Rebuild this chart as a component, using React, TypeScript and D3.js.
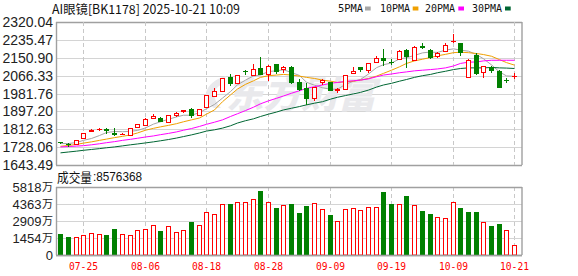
import React from 'react';
import * as d3 from 'd3';

const dates = [
  '07-22','07-23','07-24','07-25','07-28','07-29','07-30','07-31','08-01','08-04',
  '08-05','08-06','08-07','08-08','08-11','08-12','08-13','08-14','08-15','08-18',
  '08-19','08-20','08-21','08-22','08-25','08-26','08-27','08-28','08-29','09-01',
  '09-02','09-03','09-04','09-05','09-08','09-09','09-10','09-11','09-12','09-15',
  '09-16','09-17','09-18','09-19','09-22','09-23','09-24','09-25','09-26','09-29',
  '09-30','10-09','10-10','10-13','10-14','10-15','10-16','10-17','10-20','10-21'
];

const opens = [
  1750,1741,1741,1771,1806,1812,1815,1795,1790,1784,
  1823,1832,1868,1867,1848,1879,1897,1908,1878,1920,
  1970,1994,2059,2030,2086,2067,2102,2072,2120,2097,
  2105,2036,2006,1961,2034,2034,1999,2004,2077,2105,
  2092,2133,2152,2131,2147,2189,2141,2208,2186,2159,
  2183,2229,2219,2061,2163,2084,2105,2089,2046,2064
];
const highs = [
  1753,1746,1762,1797,1814,1818,1817,1820,1795,1820,
  1839,1865,1884,1869,1882,1894,1905,1912,1910,1975,
  2006,2055,2073,2069,2092,2122,2155,2116,2122,2112,
  2110,2050,2030,2014,2050,2036,2010,2069,2106,2107,
  2126,2160,2194,2145,2188,2191,2206,2222,2192,2176,
  2220,2265,2221,2145,2175,2112,2112,2091,2057,2077
];
const lows = [
  1742,1730,1738,1769,1800,1806,1788,1779,1788,1779,
  1821,1826,1866,1845,1843,1870,1890,1868,1876,1918,
  1963,1992,2019,2028,2069,2065,2068,2040,2075,2080,
  2028,1993,1926,1945,2020,1992,1985,2002,2072,2085,
  2077,2128,2111,2115,2145,2103,2139,2194,2147,2150,
  2181,2222,2161,2058,2070,2055,2078,2007,2030,2052
];
const closes = [
  1746,1736,1760,1795,1810,1816,1803,1785,1792,1818,
  1837,1863,1874,1848,1879,1891,1903,1873,1908,1973,
  1994,2053,2026,2067,2084,2096,2070,2114,2083,2109,
  2030,1998,1956,2012,2048,1995,2001,2067,2088,2091,
  2124,2152,2136,2129,2185,2155,2204,2199,2149,2173,
  2210,2232,2172,2142,2072,2110,2088,2009,2044,2066
];

// volume in 万
const volumes = [
  1808,1553,1525,1694,1864,1779,1723,2231,1779,1694,
  2146,2231,2542,2062,2457,1977,2146,2824,2542,3671,
  3474,4405,4349,4518,4575,4829,5450,4518,4010,4236,
  4349,3586,4180,4434,3897,3417,2909,3897,3982,3841,
  4067,4067,5366,4349,4349,5027,4236,3756,3502,3248,
  3135,4518,4010,3671,3671,2824,2485,2655,2146,857.6
];

const ma5 = [
  1745,1745,1750,1760,1769,1783,1797,1802,1801,1803,
  1807,1819,1837,1848,1860,1871,1879,1879,1891,1910,
  1930,1960,1991,2023,2045,2065,2069,2086,2089,2094,
  2081,2067,2035,2021,2009,2002,2002,2025,2040,2048,
  2074,2104,2118,2126,2145,2151,2162,2174,2178,2176,
  2187,2193,2187,2182,2166,2146,2117,2084,2065,2063
];
const ma10 = [
  1732,1736,1741,1747,1753,1760,1766,1773,1779,1786,
  1795,1808,1817,1824,1831,1839,1848,1857,1866,1884,
  1904,1943,1975,2003,2025,2042,2058,2066,2069,2072,
  2069,2064,2058,2053,2045,2040,2034,2037,2040,2045,
  2053,2064,2077,2092,2108,2124,2136,2144,2152,2160,
  2167,2175,2177,2175,2171,2166,2158,2142,2128,2116
];
const ma20 = [
  1729,1731,1733,1735,1739,1744,1749,1754,1760,1765,
  1770,1776,1781,1787,1793,1800,1808,1816,1826,1836,
  1846,1857,1873,1886,1901,1917,1933,1947,1959,1970,
  1983,1995,2006,2014,2022,2030,2034,2039,2042,2045,
  2051,2061,2069,2074,2080,2084,2089,2092,2095,2098,
  2103,2112,2124,2130,2131,2136,2139,2139,2139,2139
];
const ma30 = [
  1701,1705,1709,1713,1717,1721,1725,1729,1734,1739,
  1743,1748,1753,1758,1764,1771,1778,1786,1795,1804,
  1810,1818,1829,1842,1853,1862,1873,1884,1894,1904,
  1912,1920,1928,1936,1943,1955,1964,1972,1980,1987,
  1998,2012,2022,2030,2040,2048,2058,2066,2072,2080,
  2087,2095,2100,2103,2103,2103,2105,2103,2102,2100
];

const priceTicks = ['2320.04','2235.47','2150.90','2066.33','1981.76','1897.20','1812.63','1728.06','1643.49'];
const volTicks = [5818, 4363, 2909, 1454, 0];
const dateTicks = ['07-25','08-06','08-18','08-28','09-09','09-19','10-09','10-21'];
const maNames = ['5PMA','10PMA','20PMA','30PMA'];
const maColors = ['#a6a6a6','#f0a000','#ff00ff','#006633'];
const maSeries = [ma5, ma10, ma20, ma30];
const title = 'AI眼镜[BK1178] 2025-10-21 10:09';
const volTitle = '成交量';
const volLatest = '8576368';
const wanUnit = '万';

const RED = '#ff0000';
const GREEN = '#008000';

export default function App() {
  const W = 578, H = 276;
  const L = 56, R = 522;
  const pTop = 22, pBot = 165, vTop = 187, vBot = 255;

  const x = d3.scaleBand<string>().domain(dates).range([56.5, 518]).padding(0);
  const cx = (d: string) => Math.round((x(d) as number) + x.bandwidth() / 2) + 0.5;
  const pMin = +priceTicks[priceTicks.length - 1];
  const pMax = +priceTicks[0];
  const y = d3.scaleLinear().domain([pMin, pMax]).range([pBot, pTop]);
  const vy = d3.scaleLinear().domain([0, volTicks[0]]).range([vBot, vTop]);

  const lineGen = (arr: number[]) =>
    d3.line<number>().x((_, i) => cx(dates[i])).y((v) => y(v))(arr) || '';

  const legendX = [338, 380, 425, 472];
  const legendW = [25, 30, 30, 30];
  const legendBoxX = [365, 412.7, 458.3, 505];

  return (
    <div style={{ position: 'absolute', left: 0, top: 0 }}>
      <svg width={W} height={H} style={{ display: 'block', background: '#fff' }}>
        {/* header */}
        <text x={52} y={13.5} fontFamily="'Noto Sans CJK SC', 'DejaVu Sans Mono', sans-serif" fontSize={12.5}
          fill="#111" textLength={188} lengthAdjust="spacingAndGlyphs">{title}</text>
        {maNames.map((n, i) => (
          <g key={n}>
            <text x={legendX[i]} y={12.3} fontFamily="'DejaVu Sans Mono', monospace" fontSize={11}
              fill="#111" textLength={legendW[i]} lengthAdjust="spacingAndGlyphs">{n}</text>
            <rect x={legendBoxX[i]} y={6.5} width={5.7} height={4} fill={maColors[i]} />
          </g>
        ))}

        {/* price grid */}
        {priceTicks.map((t, i) => (
          <line key={'pg' + i} x1={L} x2={R} y1={Math.round(y(+t)) + 0.5} y2={Math.round(y(+t)) + 0.5}
            stroke={i === 0 || i === priceTicks.length - 1 ? '#a0a0a0' : '#d4d4d4'} strokeWidth={i === 0 || i === priceTicks.length - 1 ? 1.4 : 1} />
        ))}
        {priceTicks.map((t, i) => (
          <text key={'pt' + i} x={53} y={y(+t)} dy="0.36em" textAnchor="end"
            fontFamily="'Liberation Sans', Arial, sans-serif" fontSize={14} fill="#222">{t}</text>
        ))}
        {dateTicks.map((d) => (
          <g key={'vg' + d}>
            <line x1={cx(d)} x2={cx(d)} y1={pTop} y2={pBot} stroke="#c8c8c8" strokeDasharray="4,3" />
            <line x1={cx(d)} x2={cx(d)} y1={vTop} y2={vBot} stroke="#c8c8c8" strokeDasharray="4,3" />
          </g>
        ))}

        {/* watermark */}
        <g fill="#e9e9ec">
          <path d="M 214 108 C 200 100, 204 82, 226 76 L 223 84 C 212 88, 212 99, 221 108 Z" />
          <text x={0} y={0} transform="translate(226,108) skewX(-14)" fontFamily="'Noto Sans CJK SC', sans-serif"
            fontSize={37} fontWeight={900} textLength={150} lengthAdjust="spacingAndGlyphs">东方财富</text>
        </g>

        {/* MA lines */}
        {maSeries.map((s, k) => (
          <path key={'ma' + k} d={lineGen(s)} fill="none" stroke={maColors[k]} strokeWidth={1} />
        ))}

        {/* candles */}
        {dates.map((d, i) => {
          const c = cx(d);
          const o = opens[i], cl = closes[i], h = highs[i], l = lows[i];
          const up = cl >= o;
          const yh = Math.round(y(h)), yl = Math.round(y(l));
          const yTop = Math.round(y(Math.max(o, cl)));
          const yBottom = Math.round(y(Math.min(o, cl)));
          if (!up) {
            return (
              <g key={'c' + i}>
                <line x1={c} x2={c} y1={yh} y2={yl} stroke={GREEN} strokeWidth={1} />
                <rect x={c - 2.5} y={yTop} width={5} height={Math.max(1, yBottom - yTop)} fill={GREEN} />
              </g>
            );
          }
          if (yBottom - yTop < 2) {
            return (
              <g key={'c' + i}>
                <line x1={c} x2={c} y1={yh} y2={yl} stroke={RED} strokeWidth={1} />
                <rect x={c - 2.5} y={yTop} width={5} height={Math.max(1, yBottom - yTop + 1)} fill={RED} />
              </g>
            );
          }
          return (
            <g key={'c' + i}>
              <line x1={c} x2={c} y1={yh} y2={yTop} stroke={RED} strokeWidth={1} />
              <line x1={c} x2={c} y1={yBottom + 1} y2={yl} stroke={RED} strokeWidth={1} />
              <rect x={c - 2} y={yTop + 0.5} width={4} height={yBottom - yTop} fill="#fff" stroke={RED} strokeWidth={1} />
            </g>
          );
        })}

        {/* price panel borders */}
        <line x1={L + 0.5} x2={L + 0.5} y1={pTop} y2={pBot} stroke="#a0a0a0" strokeWidth={1.4} />
        <line x1={R} x2={R} y1={pTop} y2={pBot} stroke="#a0a0a0" strokeWidth={1.4} />

        {/* volume title */}
        <text x={57} y={181.5} fontFamily="'Noto Sans CJK SC', sans-serif" fontSize={13} fill="#111"
          textLength={35} lengthAdjust="spacingAndGlyphs">{volTitle}</text>
        <text x={93} y={181} fontFamily="'Liberation Sans', Arial, sans-serif" fontSize={13} fill="#111"
          textLength={49} lengthAdjust="spacingAndGlyphs">{':' + volLatest}</text>

        {/* volume grid */}
        {volTicks.map((v, i) => (
          <line key={'vgl' + i} x1={L} x2={R} y1={Math.round(vy(v)) + 0.5} y2={Math.round(vy(v)) + 0.5}
            stroke={i === 0 || i === volTicks.length - 1 ? '#a0a0a0' : '#d4d4d4'} strokeWidth={i === 0 || i === volTicks.length - 1 ? 1.4 : 1} />
        ))}
        {volTicks.map((v, i) => (
          <g key={'vt' + i}>
            <text x={v !== 0 ? 41.5 : 53} y={vy(v)} dy="0.36em" textAnchor="end"
              fill="#222" fontSize={13} fontFamily="'Liberation Sans', Arial, sans-serif">{String(v)}</text>
            {v !== 0 ? (
              <text x={42} y={vy(v)} dy="0.38em" fill="#222" fontSize={11}
                fontFamily="'Noto Sans CJK SC', sans-serif" textLength={11} lengthAdjust="spacingAndGlyphs">{wanUnit}</text>
            ) : null}
          </g>
        ))}

        {/* volume bars */}
        {dates.map((d, i) => {
          const c = cx(d);
          const up = i === 0 ? closes[0] >= opens[0] : closes[i] >= closes[i - 1];
          const top = Math.round(vy(volumes[i]));
          if (!up) {
            return <rect key={'v' + i} x={c - 2.5} y={top} width={5} height={vBot - top} fill={GREEN} />;
          }
          return <rect key={'v' + i} x={c - 2} y={top + 0.5} width={4} height={vBot - top - 0.5} fill="#fff" stroke={RED} strokeWidth={1} />;
        })}
        <line x1={L + 0.5} x2={L + 0.5} y1={vTop} y2={vBot} stroke="#a0a0a0" strokeWidth={1.4} />
        <line x1={R} x2={R} y1={vTop} y2={vBot} stroke="#a0a0a0" strokeWidth={1.4} />
        <line x1={L} x2={R} y1={vBot + 0.5} y2={vBot + 0.5} stroke="#a0a0a0" strokeWidth={1.4} />

        {/* date labels */}
        {dateTicks.map((d) => (
          <text key={'dt' + d} x={cx(d)} y={269.5} textAnchor="middle" fontFamily="'DejaVu Sans Mono', monospace"
            fontSize={10.5} fill={RED} textLength={29} lengthAdjust="spacingAndGlyphs">{d}</text>
        ))}
      </svg>
    </div>
  );
}
